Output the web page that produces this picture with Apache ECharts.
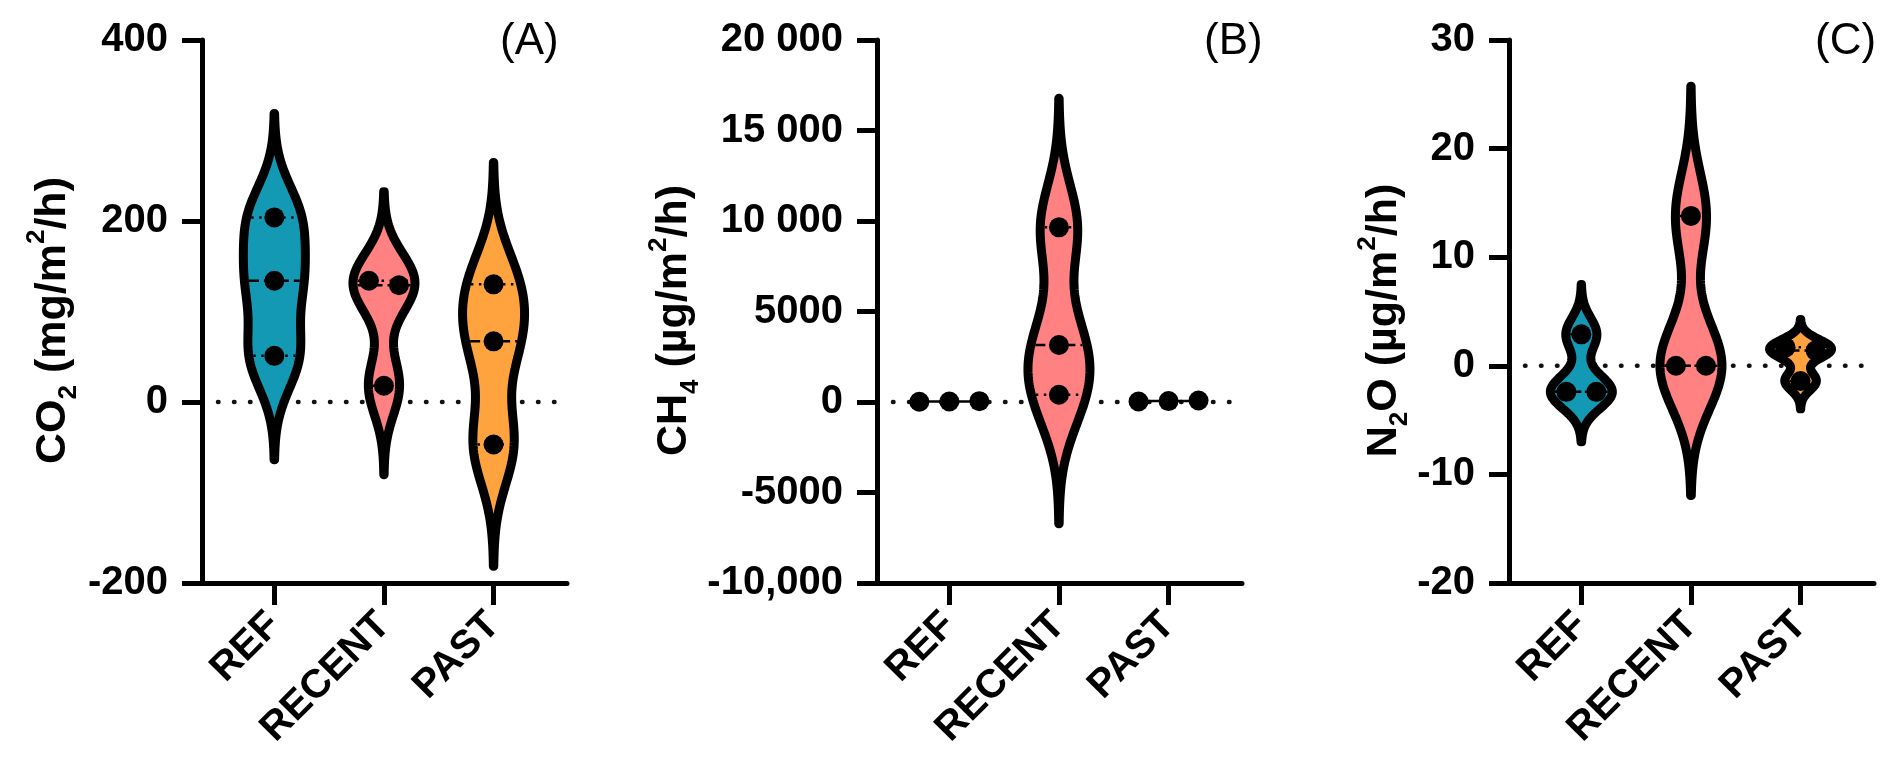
<!DOCTYPE html>
<html>
<head>
<meta charset="utf-8">
<script src="https://cdn.jsdelivr.net/npm/echarts@6/dist/echarts.min.js"></script>
<style>
  html, body { margin: 0; padding: 0; background: #fff; }
  #chart { width: 1892px; height: 780px; }
</style>
</head>
<body>
<div id="chart"></div>
<script>
// ---------------- DATA ----------------
const categories = ['REF', 'RECENT', 'PAST'];

// Panel A: CO2 (mg/m2/h)
const co2Ref = [204, 134, 51];
const co2Recent = [134, 129, 18];
const co2Past = [130, 67, -47];
const co2Ticks = [-200, 0, 200, 400];
const co2TickLabels = ['-200', '0', '200', '400'];

// Panel B: CH4 (µg/m2/h)
const ch4Ref = [15, 30, 45];
const ch4Recent = [9650, 3150, 400];
const ch4Past = [25, 50, 80];
const ch4Ticks = [-10000, -5000, 0, 5000, 10000, 15000, 20000];
const ch4TickLabels = ['-10,000', '-5000', '0', '5000', '10 000', '15 000', '20 000'];

// Panel C: N2O (µg/m2/h)
const n2oRef = [2.9, -2.4, -2.4];
const n2oRecent = [13.8, 0, 0];
const n2oPast = [1.7, 1.4, -1.4];
const n2oTicks = [-20, -10, 0, 10, 20, 30];
const n2oTickLabels = ['-20', '-10', '0', '10', '20', '30'];

const panelLetters = ['(A)', '(B)', '(C)'];

// ---------------- STYLE ----------------
const FONT = '"Liberation Sans", Arial, sans-serif';
const groupColors = ['#1399B4', '#FF8181', '#FFA33F'];
const HALF_WIDTH = 31;      // px, violin max half width (stroke centre)
const STROKE = 9;
const BW_FACTOR = 0.5;      // KDE bandwidth relative to sample SD
const DOT_R = 10;
const DOT_SPACING = 30;

function sampleSd(v) {
  const m = v.reduce((a, b) => a + b, 0) / v.length;
  return Math.sqrt(v.reduce((a, b) => a + (b - m) * (b - m), 0) / (v.length - 1));
}
function percentile(v, p) {
  const s = v.slice().sort((a, b) => a - b);
  const n = s.length;
  let r = (n + 1) * p;
  if (r <= 1) return s[0];
  if (r >= n) return s[n - 1];
  const lo = Math.floor(r), f = r - lo;
  return s[lo - 1] + f * (s[lo] - s[lo - 1]);
}
function makeKde(vals) {
  const h = BW_FACTOR * sampleSd(vals);
  const lo = Math.min(...vals) - 3 * h, hi = Math.max(...vals) + 3 * h;
  const dens = y => vals.reduce((a, v) => a + Math.exp(-0.5 * ((y - v) / h) ** 2), 0);
  const M = 160, ys = [], ds = [];
  let dmax = 0;
  for (let i = 0; i <= M; i++) {
    const y = lo + (hi - lo) * i / M;
    const d = dens(y);
    ys.push(y); ds.push(d);
    if (d > dmax) dmax = d;
  }
  return { ys, ws: ds.map(d => d / dmax), rel: y => dens(y) / dmax, lo, hi };
}

function violinRender(groups) {
  return function (params, api) {
    const gi = api.value(0);
    const vals = groups[gi];
    const color = groupColors[gi];
    const k = makeKde(vals);
    const cx = api.coord([gi, 0])[0];
    const py = v => api.coord([gi, v])[1];
    const children = [];
    const pixH = Math.abs(py(k.lo) - py(k.hi));
    const leftPts = [], rightPts = [];
    for (let i = 0; i < k.ys.length; i++) {
      const y = py(k.ys[i]);
      leftPts.push([cx - HALF_WIDTH * k.ws[i], y]);
      rightPts.unshift([cx + HALF_WIDTH * k.ws[i], y]);
    }
    const thin = pixH < 3;
    if (thin) {
      const yy = py(percentile(vals, 0.5));
      children.push({ type: 'line', shape: { x1: cx - 37, y1: yy, x2: cx + 37, y2: yy },
        style: { stroke: '#000', lineWidth: 2.5 } });
    } else {
      children.push({
        type: 'polygon',
        shape: { points: leftPts.concat(rightPts) },
        style: { fill: color, stroke: '#000', lineWidth: STROKE, lineJoin: 'round', lineCap: 'round' }
      });
      const qs = [[percentile(vals, 0.25), [2.5, 5.5]], [percentile(vals, 0.5), [10, 5]], [percentile(vals, 0.75), [2.5, 5.5]]];
      qs.forEach(([q, dash]) => {
        const hw = Math.max(0, HALF_WIDTH * k.rel(q) - STROKE / 2);
        const yy = py(q);
        children.push({ type: 'line', shape: { x1: cx - hw, y1: yy, x2: cx + hw, y2: yy },
          style: { stroke: '#000', lineWidth: 2.5, lineDash: dash } });
      });
    }
    // dots with simple beeswarm spread of overlapping points
    const pts = vals.map((v, i) => ({ v, i, y: py(v) }));
    const sorted = pts.slice().sort((a, b) => a.y - b.y);
    const clusters = [];
    sorted.forEach(p => {
      const c = clusters[clusters.length - 1];
      if (c && Math.abs(p.y - c[c.length - 1].y) < 2 * DOT_R) c.push(p); else clusters.push([p]);
    });
    clusters.forEach(c => {
      c.sort((a, b) => a.i - b.i);
      c.forEach((p, j) => {
        const off = (j - (c.length - 1) / 2) * DOT_SPACING;
        children.push({ type: 'circle', shape: { cx: cx + off, cy: p.y, r: DOT_R }, style: { fill: '#000' } });
      });
    });
    return { type: 'group', children };
  };
}

function zeroLineRender(xmin, xmax) {
  return function (params, api) {
    const a = api.coord([xmin, 0]), b = api.coord([xmax, 0]);
    return { type: 'line', shape: { x1: a[0] + 16, y1: a[1], x2: b[0], y2: b[1] },
      style: { stroke: '#111', lineWidth: 4.5, lineDash: [0.5, 15.5], lineCap: 'round' } };
  };
}

const panels = [
  { left: 202, groups: [co2Ref, co2Recent, co2Past], ticks: co2Ticks, labels: co2TickLabels,
    name: '{b|CO}{sub|2}{b| (mg/m}{sup|2}{b|/h)}', nameGap: 120, letterX: 500 },
  { left: 877, groups: [ch4Ref, ch4Recent, ch4Past], ticks: ch4Ticks, labels: ch4TickLabels,
    name: '{b|CH}{sub|4}{b| (µg/m}{sup|2}{b|/h)}', nameGap: 170, letterX: 1204 },
  { left: 1509, groups: [n2oRef, n2oRecent, n2oPast], ticks: n2oTicks, labels: n2oTickLabels,
    name: '{b|N}{sub|2}{b|O (µg/m}{sup|2}{b|/h)}', nameGap: 95, letterX: 1815 }
];

const XMIN = -0.66, XMAX = 2.67;
const grids = [], xAxes = [], yAxes = [], series = [], graphics = [];
panels.forEach((p, pi) => {
  grids.push({ left: p.left, top: 40, width: 365, height: 543, outerBoundsMode: 'none', containLabel: false });
  xAxes.push({
    type: 'value', gridIndex: pi, min: XMIN, max: XMAX,
    splitLine: { show: false },
    axisLine: { show: true, onZero: false, lineStyle: { color: '#000', width: 5 } },
    axisTick: { show: true, customValues: [0, 1, 2], length: 22, lineStyle: { color: '#000', width: 5 } },
    axisLabel: {
      show: true, customValues: [0, 1, 2], rotate: 45, margin: 36,
      formatter: v => categories[Math.round(v)] || '',
      color: '#000', fontFamily: FONT, fontWeight: 'bold', fontSize: 40
    }
  });
  const step = p.ticks[1] - p.ticks[0];
  yAxes.push({
    type: 'value', gridIndex: pi, min: p.ticks[0], max: p.ticks[p.ticks.length - 1], interval: step,
    splitLine: { show: false },
    axisLine: { show: true, onZero: false, lineStyle: { color: '#000', width: 5 } },
    axisTick: { show: true, length: 20, lineStyle: { color: '#000', width: 5 } },
    axisLabel: {
      color: '#000', fontFamily: FONT, fontWeight: 'bold', fontSize: 40, margin: 34,
      formatter: v => { const i = p.ticks.indexOf(v); return i >= 0 ? p.labels[i] : ''; }
    },
    name: p.name, nameLocation: 'middle', nameRotate: 90, nameGap: p.nameGap,
    nameTextStyle: {
      padding: [0, 18, 0, 0],
      rich: {
        b: { fontFamily: FONT, fontWeight: 'bold', fontSize: 43, color: '#000', lineHeight: 48 },
        sub: { fontFamily: FONT, fontWeight: 'bold', fontSize: 26, color: '#000', verticalAlign: 'bottom', lineHeight: 58 },
        sup: { fontFamily: FONT, fontWeight: 'bold', fontSize: 26, color: '#000', verticalAlign: 'top', lineHeight: 26 }
      }
    }
  });
  series.push({
    type: 'custom', xAxisIndex: pi, yAxisIndex: pi, z: 1, silent: true,
    renderItem: zeroLineRender(XMIN, XMAX), data: [[0, 0]]
  });
  series.push({
    type: 'custom', xAxisIndex: pi, yAxisIndex: pi, z: 2, silent: true,
    renderItem: violinRender(p.groups),
    data: p.groups.map((g, i) => [i, percentile(g, 0.5)])
  });
  graphics.push({ type: 'text', left: p.letterX, top: 20,
    style: { text: panelLetters[pi], font: '44px "Liberation Sans", Arial, sans-serif', fill: '#000' } });
});

const chart = echarts.init(document.getElementById('chart'), null, { renderer: 'canvas' });
chart.setOption({
  animation: false,
  backgroundColor: '#fff',
  grid: grids, xAxis: xAxes, yAxis: yAxes, series, graphic: graphics
});
</script>
</body>
</html>
